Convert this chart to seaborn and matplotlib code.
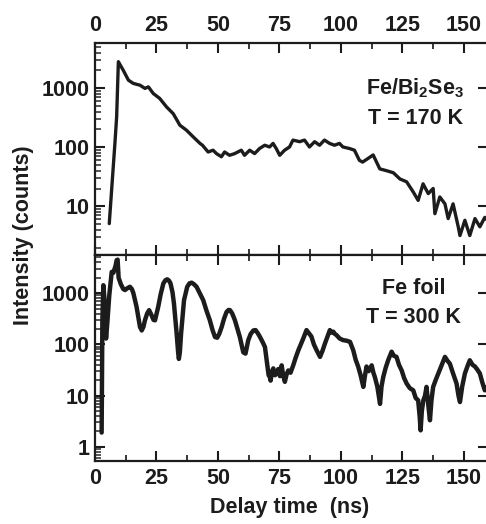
import numpy as np
import pandas as pd
import matplotlib
matplotlib.use("Agg")
import matplotlib.pyplot as plt
import seaborn as sns
from matplotlib.ticker import LogLocator, MultipleLocator, NullFormatter, FixedLocator

# ---- data ----
t_bise = [5.8, 8.1, 8.8, 9.5, 11.5, 13.6, 15.6, 18.3, 20.3, 21.7, 23.7, 26.3, 29.1, 31.8,
          34.5, 37.2, 39.9, 42.7, 43.7, 46.0, 48.0, 49.4, 51.4, 52.7, 54.7, 56.8, 59.5,
          60.8, 62.9, 64.9, 66.9, 69.0, 71.0, 72.4, 73.7, 75.1, 77.1, 79.1, 80.5, 83.2,
          85.2, 87.2, 89.3, 91.3, 93.3, 95.4, 97.4, 99.4, 100.8, 103.5, 105.5, 107.5,
          108.8, 110.9, 113.1, 115.8, 118.6, 121.3, 124.0, 126.7, 129.4, 131.4, 133.4,
          135.5, 137.5, 138.2, 140.2, 142.3, 143.6, 145.6, 147.7, 148.4, 150.4, 152.4,
          154.5, 156.5, 158.5, 160.0]
i_bise = [5.1, 117, 325, 2800, 2000, 1360, 1200, 1120, 990, 1050, 810, 670, 480, 370,
          236, 194, 150, 116, 108, 83, 89, 78, 69, 83, 73, 78, 89,
          73, 89, 78, 95, 108, 101, 116, 95, 73, 89, 101, 132, 124,
          132, 101, 124, 108, 132, 116, 108, 116, 101, 95, 89, 60,
          56, 64, 74, 43, 40, 37, 29, 26, 17.5, 12.6, 24,
          16.4, 20, 7.5, 14.4, 11, 6.2, 11, 4.5, 3.2, 5.8, 3.2,
          6.2, 4.5, 6.5, 5.5]

t_fe = [2.7, 3.0, 3.4, 3.9, 4.5, 5.0, 5.8, 6.8, 7.5, 8.4, 8.8, 9.2, 9.6, 10.5, 11.5, 12.2,
        13.2, 14.2, 15.0, 15.6, 16.9, 18.3, 19.0, 19.7, 20.3, 21.2, 22.0, 23.0, 23.8,
        24.4, 25.7, 26.7, 27.8, 28.7, 29.4, 30.1, 30.7, 31.5, 32.1, 33.2, 33.8, 34.1,
        34.5, 35.0, 36.2, 37.5, 38.4, 39.3, 40.2, 41.3, 42.6, 44.0, 45.3, 46.7, 47.8,
        48.8, 49.7, 50.5, 51.5, 52.5, 53.5, 54.3, 54.9, 55.8, 56.9, 58.9, 60.3, 61.2,
        62.3, 63.3, 64.4, 65.3, 66.2, 67.1, 68.2, 69.1, 70.0, 70.6, 71.1, 71.4, 72.0,
        72.5, 73.2, 73.8, 74.5, 75.2, 75.9, 76.5, 77.2, 77.9, 78.6, 79.5, 80.6, 81.6,
        82.7, 83.7, 84.7, 85.4, 86.0, 87.0, 88.0, 89.0, 90.1, 91.5, 92.5, 93.5, 94.5,
        95.5, 96.2, 96.9, 97.5, 98.2, 99.5, 100.9, 102.3, 103.7, 105.0, 106.0, 107.0,
        108.0, 109.1, 109.8, 110.4, 111.3, 112.5, 113.2, 113.8, 114.8, 115.9, 116.5,
        117.2, 118.2, 119.2, 120.6, 121.5, 122.6, 123.6, 124.7, 125.7, 126.7, 128.0,
        129.4, 130.4, 131.4, 132.0, 132.4, 132.9, 133.5, 134.2, 134.8, 135.6, 136.2,
        136.8, 137.5, 138.5, 139.6, 141.0, 142.3, 143.3, 144.3, 145.5, 147.0, 147.8,
        148.4, 149.3, 150.4, 151.5, 152.4, 153.5, 154.5, 155.5, 156.5, 157.5, 158.5,
        159.5, 160.0]
i_fe = [1.9, 300, 1430, 700, 130, 260, 900, 2600, 2500, 3500, 4400, 4500, 2000, 1500, 1200,
        1150, 1250, 1330, 1200, 1000, 540, 218, 187, 220, 295, 400, 465, 370, 300,
        295, 540, 950, 1550, 1800, 1860, 1750, 1550, 1050, 630, 162, 70, 52,
        70, 162, 730, 1330, 1550, 1600, 1500, 1330, 1000, 730, 460, 295, 190,
        139, 135, 160, 218, 320, 430, 470, 465, 400, 295, 139, 70, 66,
        120, 160, 187, 190, 165, 139, 110, 89, 42, 25, 23, 19.6, 30,
        34, 25, 27, 33, 24, 39, 25, 18.6, 26, 31, 28, 39, 55,
        77, 100, 131, 160, 190, 165, 142, 100, 77, 57, 75, 104, 140,
        190, 170, 177, 160, 152, 130, 121, 118, 112, 77, 50, 37,
        25, 14.8, 25, 37, 30, 39, 28, 23, 15, 6.9, 15,
        23, 35, 49, 72, 60, 57, 40, 31, 22, 17.3, 14,
        12.7, 9, 8.1, 4, 2.1, 5, 8.1, 10, 14.8, 6, 3.3,
        8, 14.8, 20, 27, 40, 57, 48, 42, 28, 17.3, 10,
        7.5, 15, 27, 38, 49, 40, 37, 32, 27, 18, 12.7,
        15, 15]

xticks = [0, 25, 50, 75, 100, 125, 150]

sns.set_style("ticks")
plt.rcParams["font.family"] = ["Liberation Sans", "DejaVu Sans"]
plt.rcParams["font.weight"] = "bold"
plt.rcParams["mathtext.fontset"] = "custom"
plt.rcParams["mathtext.rm"] = "Liberation Sans:bold"
plt.rcParams["mathtext.bf"] = "Liberation Sans:bold"
plt.rcParams["mathtext.default"] = "rm"

FS = 15.5
INK = "#1c1c1c"
fig = plt.figure(figsize=(4.86, 5.24), dpi=100)
left = 95 / 486
width = (488 - 95) / 486
ax1 = fig.add_axes([left, (524 - 255) / 524, width, 212 / 524])
ax2 = fig.add_axes([left, (524 - 461) / 524, width, 206 / 524])

df1 = pd.DataFrame({"t": t_bise, "I": i_bise})
df2 = pd.DataFrame({"t": t_fe, "I": i_fe})
sns.lineplot(data=df1, x="t", y="I", ax=ax1, color=INK, lw=2.4, estimator=None)
sns.lineplot(data=df2, x="t", y="I", ax=ax2, color=INK, lw=3.2, estimator=None)

for ax, ylim, yt in [(ax1, (1.5, 5800), [10, 100, 1000]),
                     (ax2, (0.53, 5550), [1, 10, 100, 1000])]:
    ax.set_yscale("log")
    ax.set_xlim(0, 159.8)
    ax.set_ylim(*ylim)
    ax.set_xlabel("")
    ax.set_ylabel("")
    ax.xaxis.set_major_locator(FixedLocator(xticks))
    ax.xaxis.set_minor_locator(MultipleLocator(12.5))
    ax.yaxis.set_major_locator(FixedLocator(yt))
    ax.yaxis.set_minor_locator(LogLocator(base=10, subs=np.arange(2, 10)))
    ax.yaxis.set_minor_formatter(NullFormatter())
    ax.set_yticklabels([str(v) for v in yt])
    for s in ax.spines.values():
        s.set_linewidth(1.6)
        s.set_color(INK)
    ax.tick_params(axis="both", which="major", direction="in", length=7.5, width=1.5,
                   labelsize=FS, colors=INK, top=True, right=True)
    ax.tick_params(axis="x", which="minor", direction="in", length=4, width=1.3,
                   top=True, bottom=True)
    ax.tick_params(axis="y", which="minor", direction="in", length=4.5, width=1.1,
                   left=True, right=False)
    ax.tick_params(axis="y", pad=4)

ax1.tick_params(axis="x", labeltop=True, labelbottom=False, pad=5)
ax2.tick_params(axis="x", labeltop=False, labelbottom=True, pad=5)
ax1.set_xticklabels([str(v) for v in xticks])
ax2.set_xticklabels([str(v) for v in xticks])
for ax in (ax1, ax2):
    for lab in ax.get_xticklabels() + ax.get_yticklabels():
        lab.set_fontweight("bold")

ax1.text(0.815, 0.785, r"Fe/Bi$_{2}$Se$_{3}$", transform=ax1.transAxes, ha="center",
         va="center", fontsize=FS, fontweight="bold", color=INK)
ax1.text(0.815, 0.645, "T = 170 K", transform=ax1.transAxes, ha="center", va="center",
         fontsize=FS, fontweight="bold", color=INK)
ax2.text(0.81, 0.835, "Fe foil", transform=ax2.transAxes, ha="center", va="center",
         fontsize=FS, fontweight="bold", color=INK)
ax2.text(0.81, 0.695, "T = 300 K", transform=ax2.transAxes, ha="center", va="center",
         fontsize=FS, fontweight="bold", color=INK)

fig.text(24 / 486, 1 - 235 / 524, "Intensity (counts)", rotation=90, ha="center",
         va="center", fontsize=FS, fontweight="bold", color=INK)
fig.text(290 / 486, 1 - 508 / 524, "Delay time  (ns)", ha="center", va="center",
         fontsize=FS, fontweight="bold", color=INK)

fig.savefig("out.png", dpi=100)
